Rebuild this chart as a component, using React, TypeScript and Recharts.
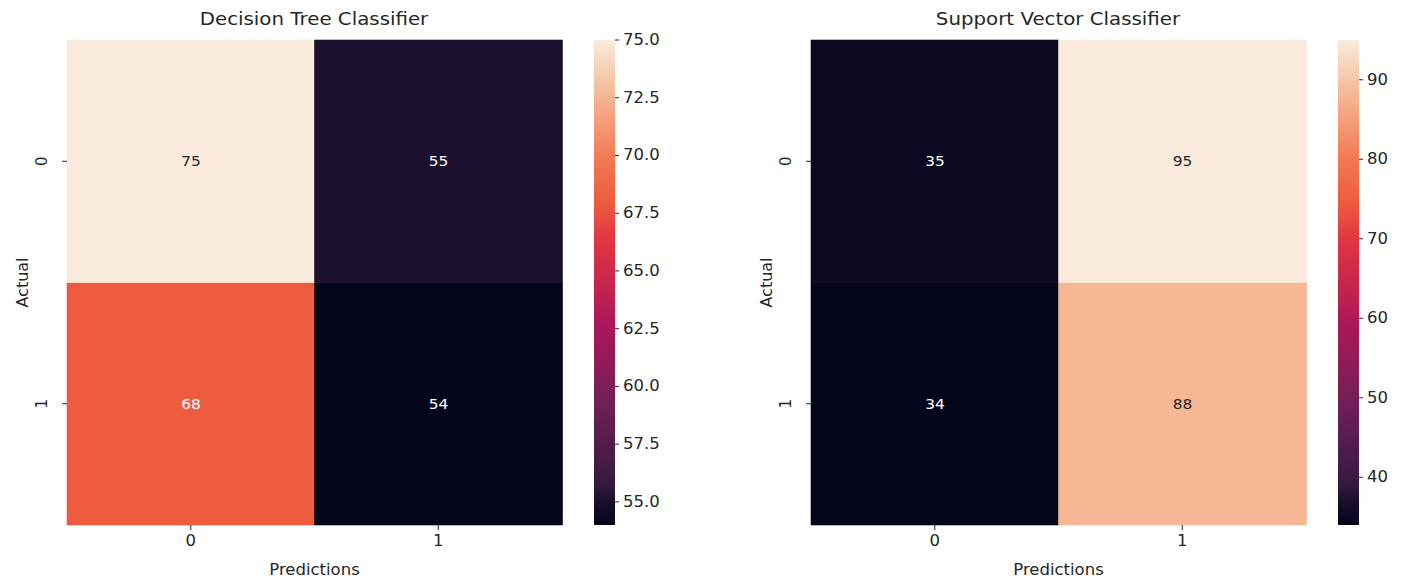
import React from 'react';
import { BarChart, Bar, XAxis, YAxis, Cell, LabelList } from 'recharts';

// confusion matrices: rows = actual class, columns = predicted class
const classLabels = ['0', '1'];
const dtMatrix = [
  [75, 55],
  [68, 54],
];
const svcMatrix = [
  [35, 95],
  [34, 88],
];
const dtRange = [54, 75];
const svcRange = [34, 95];
const dtTicks = [55, 57.5, 60, 62.5, 65, 67.5, 70, 72.5, 75];
const svcTicks = [40, 50, 60, 70, 80, 90];

// seaborn "rocket" colormap, approximated and tuned to the picture
const rocketColors = ['#03051a', '#150e29', '#35193e', '#701f57', '#ad1759', '#e13342', '#ee5c3f', '#f37651', '#f5be9b', '#faebdd'];
const rocketPos = [0, 0.04, 1 / 12, 3 / 12, 5 / 12, 7 / 12, 0.667, 0.75, 0.9, 1];

const FONT = "'DejaVu Sans', sans-serif";
const INK = '#262626';
const STRETCH = 1.1;

const hexToRgb = (h: string) => [1, 3, 5].map((i) => parseInt(h.slice(i, i + 2), 16));

function rocketRgb(t: number) {
  const v = Math.max(0, Math.min(1, t));
  let i = 0;
  while (i < rocketPos.length - 2 && v > rocketPos[i + 1]) i++;
  const f = (v - rocketPos[i]) / (rocketPos[i + 1] - rocketPos[i]);
  const a = hexToRgb(rocketColors[i]);
  const b = hexToRgb(rocketColors[i + 1]);
  return a.map((c, k) => Math.round(c + (b[k] - c) * f));
}

const rgbStr = (c: number[]) => `rgb(${c[0]},${c[1]},${c[2]})`;

function luminance(c: number[]) {
  const l = c.map((x) => {
    const s = x / 255;
    return s <= 0.03928 ? s / 12.92 : Math.pow((s + 0.055) / 1.055, 2.4);
  });
  return 0.2126 * l[0] + 0.7152 * l[1] + 0.0722 * l[2];
}

// text stretched a little sideways, like the source image
const wide = (x: number) => `translate(${x} 0) scale(${STRETCH} 1) translate(${-x} 0)`;

function Heatmap({ title, matrix, range, left }: { title: string; matrix: number[][]; range: number[]; left: number }) {
  const data = classLabels.map((label, j) => ({ pred: label, actual0: matrix[0][j], actual1: matrix[1][j] }));
  const norm = (v: number) => (v - range[0]) / (range[1] - range[0]);
  const rowLabel = (v: number) => classLabels[classLabels.length - 1 - Math.floor(v)];

  const cellLabel = (props: any) => {
    const { x, y, width, height, value } = props;
    const rgb = rocketRgb(norm(value));
    const cx = x + width / 2;
    return (
      <text
        x={cx}
        y={y + height / 2}
        transform={wide(cx)}
        textAnchor="middle"
        dominantBaseline="central"
        fontFamily={FONT}
        fontSize={14}
        fill={luminance(rgb) > 0.408 ? INK : '#ffffff'}
      >
        {value}
      </text>
    );
  };

  const xTick = (props: any) => {
    const { x, y, payload } = props;
    return (
      <text x={x} y={y + 14} transform={wide(x)} textAnchor="middle" fontFamily={FONT} fontSize={15} fill={INK}>
        {payload.value}
      </text>
    );
  };

  const yTick = (props: any) => {
    const { x, y, payload } = props;
    const tx = x - 13;
    return (
      <text x={tx} y={y} transform={`rotate(-90 ${tx} ${y})`} textAnchor="middle" fontFamily={FONT} fontSize={15} fill={INK}>
        {rowLabel(payload.value)}
      </text>
    );
  };

  const xLabel = (props: any) => {
    const { viewBox } = props;
    const cx = viewBox.x + viewBox.width / 2;
    return (
      <text x={cx} y={viewBox.y + viewBox.height - 2} transform={wide(cx)} textAnchor="middle" fontFamily={FONT} fontSize={15} fill={INK}>
        Predictions
      </text>
    );
  };

  return (
    <div style={{ position: 'absolute', left, top: 0 }}>
      <div
        style={{
          position: 'absolute',
          left: 0,
          width: 628,
          top: 8,
          textAlign: 'center',
          fontFamily: FONT,
          fontSize: 18,
          color: INK,
          transform: `scaleX(${STRETCH})`,
        }}
      >
        {title}
      </div>
      <BarChart width={580} height={582} data={data} margin={{ top: 40, right: 18, bottom: 5, left: 17 }} barCategoryGap={0}>
        <XAxis
          dataKey="pred"
          height={52}
          axisLine={false}
          tickSize={5}
          tickLine={{ stroke: INK }}
          tick={xTick}
          label={{ content: xLabel }}
        />
        <YAxis
          type="number"
          domain={[0, 2]}
          ticks={[0.5, 1.5]}
          width={50}
          axisLine={false}
          tickSize={5}
          tickLine={{ stroke: INK }}
          tick={yTick}
          label={{ value: 'Actual', angle: -90, position: 'insideLeft', offset: 5, fill: INK, fontFamily: FONT, fontSize: 16, style: { textAnchor: 'middle' } }}
        />
        {[1, 0].map((row) => (
          <Bar key={row} dataKey={() => 1} stackId="cm" isAnimationActive={false}>
            {data.map((d, j) => {
              const fill = rgbStr(rocketRgb(norm(matrix[row][j])));
              return <Cell key={d.pred} fill={fill} stroke={fill} strokeWidth={0.6} />;
            })}
            <LabelList dataKey={`actual${row}`} content={cellLabel} />
          </Bar>
        ))}
      </BarChart>
    </div>
  );
}

function ColorBar({ id, range, ticks, left, decimals }: { id: string; range: number[]; ticks: number[]; left: number; decimals: number }) {
  const data = [{ name: 'scale', span: range }];
  const stops = rocketPos
    .map((p, i) => ({ offset: 1 - p, color: rocketColors[i] }))
    .reverse();

  const tick = (props: any) => {
    const { x, y, payload } = props;
    return (
      <text x={x} y={y} dy={5} transform={wide(x)} textAnchor="start" fontFamily={FONT} fontSize={15} fill={INK}>
        {Number(payload.value).toFixed(decimals)}
      </text>
    );
  };

  return (
    <div style={{ position: 'absolute', left, top: 0 }}>
      <BarChart width={81} height={582} data={data} margin={{ top: 40, right: 0, bottom: 57, left: 0 }} barCategoryGap={0}>
        <defs>
          <linearGradient id={id} x1="0" y1="0" x2="0" y2="1">
            {stops.map((s) => (
              <stop key={s.offset} offset={s.offset} stopColor={s.color} />
            ))}
          </linearGradient>
        </defs>
        <XAxis dataKey="name" hide />
        <YAxis
          orientation="right"
          type="number"
          domain={range}
          ticks={ticks}
          width={60}
          axisLine={false}
          tickSize={4}
          tickMargin={4}
          tickLine={{ stroke: INK }}
          tick={tick}
        />
        <Bar dataKey="span" fill={`url(#${id})`} isAnimationActive={false} />
      </BarChart>
    </div>
  );
}

export default function App() {
  return (
    <div style={{ position: 'absolute', left: 0, top: 0, width: 1406, height: 582, background: '#fff', overflow: 'hidden' }}>
      <Heatmap title="Decision Tree Classifier" matrix={dtMatrix} range={dtRange} left={0} />
      <ColorBar id="dtGrad" range={dtRange} ticks={dtTicks} left={594} decimals={1} />
      <Heatmap title="Support Vector Classifier" matrix={svcMatrix} range={svcRange} left={744} />
      <ColorBar id="svcGrad" range={svcRange} ticks={svcTicks} left={1338} decimals={0} />
    </div>
  );
}
